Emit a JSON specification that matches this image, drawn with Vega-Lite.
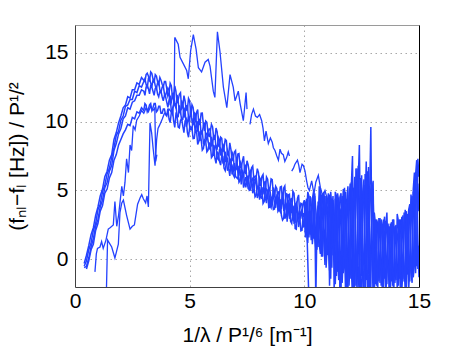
{
"$schema": "https://vega.github.io/schema/vega-lite/v6.json",
"width": 344, "height": 262,
"autosize": "none",
"padding": {"left": 75, "top": 25, "right": 44, "bottom": 62},
"config": {"view": {"stroke": null}, "font": "Liberation Sans"},
"datasets": {
"band": [
{"x":0.4,"a":-0.3,"b":-0.5,"c":-0.6},
{"x":0.5,"a":0.3,"b":-0.1,"c":-0.5,"d":-0.7},
{"x":0.6,"a":1.0,"b":0.7,"c":0.1,"d":-0.1},
{"x":0.7,"a":1.8,"b":1.2,"c":0.9,"d":0.7},
{"x":0.8,"a":2.3,"b":2.1,"c":1.5,"d":1.1},
{"x":0.9,"a":3.2,"b":2.6,"c":2.4,"d":2.1},
{"x":1.0,"a":3.8,"b":3.6,"c":2.9,"d":2.6},
{"x":1.1,"a":4.6,"b":4.0,"c":3.8,"d":3.5},
{"x":1.2,"a":5.1,"b":4.9,"c":4.3,"d":3.9},
{"x":1.3,"a":6.0,"b":5.4,"c":5.2,"d":4.8},
{"x":1.4,"a":6.4,"b":6.2,"c":5.6,"d":5.1},
{"x":1.5,"a":7.2,"b":6.6,"c":6.4,"d":5.9},
{"x":1.6,"a":7.6,"b":7.4,"c":6.8,"d":6.3},
{"x":1.7,"a":8.7,"b":8.1,"c":7.9,"d":7.2},
{"x":1.8,"a":9.2,"b":9.0,"c":8.4,"d":7.6},
{"x":1.9,"a":9.9,"b":9.3,"c":9.1,"d":8.3},
{"x":2.0,"a":10.4,"b":10.1,"c":9.5,"d":8.7},
{"x":2.1,"a":11.0,"b":10.4,"c":10.2,"d":9.1},
{"x":2.2,"a":11.2,"b":11.1,"c":10.4,"d":9.4},
{"x":2.3,"a":11.8,"b":11.2,"c":11.0,"d":9.8},
{"x":2.4,"a":11.7,"b":11.6,"c":10.9,"d":9.7},
{"x":2.5,"a":12.3,"b":11.6,"c":11.4,"d":10.3},
{"x":2.6,"a":12.3,"b":12.2,"c":11.5,"d":10.2},
{"x":2.7,"a":12.8,"b":12.1,"c":11.9,"d":10.7},
{"x":2.8,"a":12.7,"b":12.6,"c":11.9,"d":10.6},
{"x":2.9,"a":13.2,"b":12.5,"c":12.3,"d":11.0},
{"x":3.0,"a":13.0,"b":12.9,"c":12.2,"d":10.8},
{"x":3.1,"a":13.4,"b":12.7,"c":12.5,"d":11.2},
{"x":3.2,"a":13.3,"b":13.1,"c":12.4,"d":10.9},
{"x":3.3,"a":13.6,"b":12.8,"c":12.6,"d":11.3},
{"x":3.4,"a":13.1,"b":13.0,"c":12.2,"d":11.0},
{"x":3.5,"a":13.4,"b":12.6,"c":12.4,"d":11.3},
{"x":3.6,"a":12.9,"b":12.8,"c":12.0,"d":10.8},
{"x":3.7,"a":13.2,"b":12.3,"c":12.2,"d":11.1},
{"x":3.8,"a":12.7,"b":12.5,"c":11.8,"d":10.6},
{"x":3.9,"a":12.9,"b":12.0,"c":11.9,"d":10.9},
{"x":4.0,"a":12.4,"b":12.2,"c":11.4,"d":10.4},
{"x":4.1,"a":12.05,"b":12.25,"c":11.55,"d":10.18},
{"x":4.2,"a":12.6,"b":11.4,"c":10.7,"d":10.66},
{"x":4.3,"a":11.55,"b":12.05,"c":11.35,"d":10.04},
{"x":4.4,"a":12.2,"b":11.0,"c":11.3,"d":10.52},
{"x":4.5,"a":11.55,"b":11.45,"c":10.35,"d":9.6},
{"x":4.6,"a":12.1,"b":10.6,"c":10.7,"d":10.08},
{"x":4.7,"a":11.05,"b":11.25,"c":10.15,"d":9.66},
{"x":4.8,"a":11.5,"b":10.6,"c":10.8,"d":10.04},
{"x":4.9,"a":10.85,"b":11.15,"c":9.95,"d":9.22},
{"x":5.0,"a":11.5,"b":10.1,"c":9.6,"d":9.6},
{"x":5.1,"a":11.22,"b":10.02,"c":9.42,"d":9.54},
{"x":5.2,"a":10.24,"b":10.64,"c":9.94,"d":8.78},
{"x":5.3,"a":10.66,"b":9.76,"c":9.96,"d":9.32},
{"x":5.4,"a":9.78,"b":10.18,"c":8.98,"d":8.56},
{"x":5.5,"a":10.6,"b":9.1,"c":9.3,"d":8.7},
{"x":5.6,"a":9.72,"b":9.72,"c":8.42,"d":8.04},
{"x":5.7,"a":10.04,"b":8.84,"c":9.14,"d":8.58},
{"x":5.8,"a":9.16,"b":9.26,"c":8.66,"d":7.92},
{"x":5.9,"a":9.28,"b":9.38,"c":7.98,"d":8.36},
{"x":6.0,"a":9.6,"b":8.4,"c":8.5,"d":7.5},
{"x":6.1,"a":8.72,"b":8.92,"c":8.22,"d":7.34},
{"x":6.2,"a":9.24,"b":8.04,"c":7.34,"d":7.78},
{"x":6.3,"a":8.16,"b":8.66,"c":7.96,"d":7.12},
{"x":6.4,"a":8.78,"b":7.58,"c":7.88,"d":7.56},
{"x":6.5,"a":8.1,"b":8.0,"c":6.9,"d":6.6},
{"x":6.6,"a":8.62,"b":7.12,"c":7.22,"d":7.06},
{"x":6.7,"a":7.54,"b":7.74,"c":6.64,"d":6.62},
{"x":6.8,"a":7.96,"b":7.06,"c":7.26,"d":6.98},
{"x":6.9,"a":7.28,"b":7.58,"c":6.38,"d":6.14},
{"x":7.0,"a":7.9,"b":6.5,"c":6.0,"d":6.5},
{"x":7.1,"a":7.65,"b":6.45,"c":5.85,"d":6.46},
{"x":7.2,"a":6.7,"b":7.1,"c":6.4,"d":5.72},
{"x":7.3,"a":7.15,"b":6.25,"c":6.45,"d":6.28},
{"x":7.4,"a":6.3,"b":6.7,"c":5.5,"d":5.54},
{"x":7.5,"a":7.15,"b":5.65,"c":5.85,"d":5.7},
{"x":7.6,"a":6.3,"b":6.3,"c":5.0,"d":5.08},
{"x":7.7,"a":6.65,"b":5.45,"c":5.75,"d":5.66},
{"x":7.8,"a":5.8,"b":5.9,"c":5.3,"d":5.04},
{"x":7.9,"a":5.95,"b":6.05,"c":4.65,"d":5.52},
{"x":8.0,"a":6.3,"b":5.1,"c":5.2,"d":4.7},
{"x":8.1,"a":5.38,"b":5.78,"c":4.98,"d":4.48},
{"x":8.2,"a":6.16,"b":4.76,"c":4.06,"d":5.16},
{"x":8.3,"a":4.94,"b":5.64,"c":4.94,"d":4.44},
{"x":8.4,"a":5.82,"b":4.42,"c":4.92,"d":5.02},
{"x":8.5,"a":5.1,"b":5.0,"c":3.8,"d":3.9},
{"x":8.6,"a":5.78,"b":4.08,"c":4.28,"d":4.5},
{"x":8.7,"a":4.56,"b":4.96,"c":3.66,"d":4.1},
{"x":8.8,"a":5.14,"b":4.24,"c":4.54,"d":4.6},
{"x":8.9,"a":4.42,"b":4.92,"c":3.62,"d":3.6},
{"x":9.0,"a":5.3,"b":3.7,"c":3.2,"d":4.1},
{"x":9.1,"a":5.19,"b":3.59,"c":2.99,"d":4.3},
{"x":9.2,"a":3.88,"b":4.78,"c":3.98,"d":3.2},
{"x":9.3,"a":4.67,"b":3.57,"c":4.17,"d":4.2},
{"x":9.4,"a":3.46,"b":4.36,"c":2.76,"d":3.2},
{"x":9.5,"a":4.95,"b":2.85,"c":3.45,"d":3.6},
{"x":9.6,"a":3.74,"b":3.94,"c":2.24,"d":2.7},
{"x":9.7,"a":4.43,"b":2.83,"c":3.53,"d":3.7},
{"x":9.8,"a":3.22,"b":3.62,"c":3.02,"d":2.8},
{"x":9.9,"a":3.51,"b":4.01,"c":2.11,"d":3.6},
{"x":10.0,"a":4.3,"b":2.6,"c":3.1,"d":2.4,"e":3.3},
{"x":10.1,"a":3.2,"b":4.4,"c":1.9,"d":2.9,"e":3.0},
{"x":10.2,"a":4.6,"b":2.1,"c":3.5,"d":-3.0,"e":1.6},
{"x":10.3,"a":2.4,"b":4.0,"c":1.4,"e":3.9},
{"x":10.4,"a":4.9,"b":1.5,"c":3.8,"e":2.2},
{"x":10.5,"a":1.9,"b":3.6,"c":0.8,"e":-3.0},
{"x":10.6,"a":4.2,"b":0.9,"c":3.9,"e":1.2},
{"x":10.7,"a":1.3,"b":5.2,"c":0.4,"e":3.6},
{"x":10.8,"a":4.8,"b":1.8,"c":3.1,"e":0.2},
{"x":10.9,"a":0.6,"b":3.9,"c":-0.4,"e":4.6},
{"x":11.0,"a":3.8,"b":0.3,"c":4.2,"e":1.1},
{"x":11.1,"a":-0.8,"b":4.7,"c":0.9,"e":-1.9},
{"x":11.2,"a":4.1,"b":-0.6,"c":3.5,"e":3.8},
{"x":11.3,"a":0.2,"b":3.2,"c":-2.3,"e":0.8},
{"x":11.4,"a":4.6,"b":0.9,"c":3.9,"e":-1.2},
{"x":11.5,"a":-1.5,"b":4.2,"c":0.4,"e":4.0},
{"x":11.6,"a":3.7,"b":-2.4,"c":4.8,"e":-0.6},
{"x":11.7,"a":0.5,"b":5.1,"c":-1.0,"e":3.2},
{"x":11.8,"a":4.9,"b":-0.9,"c":3.0,"e":-2.5},
{"x":11.9,"a":-2.6,"b":3.6,"c":0.2,"e":5.3},
{"x":12.0,"a":5.5,"b":0.6,"c":5.0,"e":-1.4},
{"x":12.1,"a":-0.7,"b":7.5,"c":-2.8,"e":3.9},
{"x":12.2,"a":4.6,"b":-1.8,"c":6.0,"e":0.3},
{"x":12.3,"a":-2.5,"b":5.2,"c":0.1,"e":6.6},
{"x":12.4,"a":8.3,"b":-0.4,"c":4.1,"e":-2.7},
{"x":12.5,"a":-1.2,"b":6.1,"c":-2.4,"e":3.4},
{"x":12.6,"a":5.8,"b":-2.9,"c":5.4,"e":0.4},
{"x":12.7,"a":0.0,"b":4.3,"c":-1.5,"e":7.1},
{"x":12.8,"a":6.7,"b":-1.1,"c":3.6,"e":-3.0},
{"x":12.9,"a":-2.2,"b":9.6,"c":0.6,"e":4.8},
{"x":13.0,"a":4.5,"b":-2.6,"c":5.7,"e":-0.9},
{"x":13.1,"a":-1.8,"b":2.9,"c":-0.4,"e":2.6},
{"x":13.2,"a":2.6,"b":-1.0,"c":2.3,"e":-2.4},
{"x":13.3,"a":-0.6,"b":3.0,"c":-1.7,"e":1.8},
{"x":13.4,"a":2.2,"b":-2.3,"c":2.5,"e":-0.5},
{"x":13.5,"a":-1.4,"b":1.6,"c":-0.2,"e":3.1},
{"x":13.6,"a":3.4,"b":-0.9,"c":2.0,"e":-1.8},
{"x":13.7,"a":-2.5,"b":2.4,"c":-1.3,"e":1.2},
{"x":13.8,"a":1.8,"b":-1.6,"c":2.7,"e":-0.3},
{"x":13.9,"a":-0.7,"b":2.9,"c":-2.6,"e":2.2},
{"x":14.0,"a":2.5,"b":-0.4,"c":1.4,"e":-1.5},
{"x":14.1,"a":-1.9,"b":2.1,"c":-0.8,"e":2.8},
{"x":14.2,"a":2.9,"b":-2.5,"c":2.3,"e":-0.2},
{"x":14.3,"a":-0.9,"b":1.7,"c":-1.4,"e":3.2},
{"x":14.4,"a":3.6,"b":-1.2,"c":2.6,"e":-2.3},
{"x":14.5,"a":-1.1,"b":3.3,"c":0.0,"e":2.0},
{"x":14.6,"a":4.0,"b":-0.6,"c":3.7,"e":-1.6},
{"x":14.7,"a":-1.7,"b":4.6,"c":-0.8,"e":2.9},
{"x":14.8,"a":3.2,"b":0.2,"c":6.3,"e":-0.4},
{"x":14.9,"a":-0.5,"b":7.2,"c":0.8,"e":4.5},
{"x":15.0,"a":6.0,"b":-1.3,"c":3.5,"e":1.0},
{"x":3.05,"a":12.9,"b":13.1,"c":11.9,"d":11.3},
{"x":3.15,"a":13.5,"b":12.4,"c":12.6,"d":10.7},
{"x":3.25,"a":12.9,"b":13.1,"c":12.0,"d":11.2},
{"x":3.35,"a":13.5,"b":12.5,"c":12.5,"d":10.8},
{"x":3.45,"a":12.8,"b":13.0,"c":11.9,"d":11.3},
{"x":3.55,"a":13.3,"b":12.4,"c":12.5,"d":10.7},
{"x":3.65,"a":12.7,"b":12.9,"c":11.8,"d":11.1},
{"x":3.75,"a":13.0,"b":12.1,"c":12.2,"d":10.6},
{"x":3.85,"a":12.5,"b":12.6,"c":11.5,"d":10.9},
{"x":3.95,"a":12.9,"b":11.9,"c":11.8,"d":10.5},
{"x":4.05,"a":11.83,"b":12.43,"c":11.03,"d":10.94},
{"x":4.15,"a":12.78,"b":11.18,"c":11.88,"d":9.92},
{"x":4.25,"a":11.73,"b":12.03,"c":10.53,"d":10.9},
{"x":4.35,"a":12.58,"b":11.18,"c":11.28,"d":9.58},
{"x":4.45,"a":11.33,"b":11.93,"c":10.33,"d":10.36},
{"x":4.55,"a":11.98,"b":10.68,"c":11.18,"d":9.54},
{"x":4.65,"a":10.93,"b":11.53,"c":10.13,"d":10.22},
{"x":4.75,"a":11.88,"b":10.28,"c":10.98,"d":9.2},
{"x":4.85,"a":10.83,"b":11.13,"c":9.63,"d":10.18},
{"x":4.95,"a":11.68,"b":10.28,"c":10.38,"d":8.86},
{"x":5.05,"a":10.41,"b":11.01,"c":9.41,"d":9.62},
{"x":5.15,"a":11.03,"b":9.73,"c":10.23,"d":8.76},
{"x":5.25,"a":9.95,"b":10.55,"c":9.15,"d":9.4},
{"x":5.35,"a":10.87,"b":9.27,"c":9.97,"d":8.34},
{"x":5.45,"a":9.79,"b":10.09,"c":8.59,"d":9.28},
{"x":5.55,"a":10.61,"b":9.21,"c":9.31,"d":7.92},
{"x":5.65,"a":9.33,"b":9.93,"c":8.33,"d":8.66},
{"x":5.75,"a":9.95,"b":8.65,"c":9.15,"d":7.8},
{"x":5.85,"a":8.87,"b":9.47,"c":8.07,"d":8.44},
{"x":5.95,"a":9.79,"b":8.19,"c":8.89,"d":7.38},
{"x":6.05,"a":8.71,"b":9.01,"c":7.51,"d":8.32},
{"x":6.15,"a":9.53,"b":8.13,"c":8.23,"d":6.96},
{"x":6.25,"a":8.25,"b":8.85,"c":7.25,"d":7.7},
{"x":6.35,"a":8.87,"b":7.57,"c":8.07,"d":6.84},
{"x":6.45,"a":7.79,"b":8.39,"c":6.99,"d":7.48},
{"x":6.55,"a":8.71,"b":7.11,"c":7.81,"d":6.43},
{"x":6.65,"a":7.63,"b":7.93,"c":6.43,"d":7.39},
{"x":6.75,"a":8.45,"b":7.05,"c":7.15,"d":6.05},
{"x":6.85,"a":7.17,"b":7.77,"c":6.17,"d":6.81},
{"x":6.95,"a":7.79,"b":6.49,"c":6.99,"d":5.97},
{"x":7.05,"a":6.73,"b":7.33,"c":5.93,"d":6.63},
{"x":7.15,"a":7.68,"b":6.08,"c":6.78,"d":5.59},
{"x":7.25,"a":6.63,"b":6.93,"c":5.43,"d":6.55},
{"x":7.35,"a":7.48,"b":6.08,"c":6.18,"d":5.21},
{"x":7.45,"a":6.23,"b":6.83,"c":5.23,"d":5.97},
{"x":7.55,"a":6.88,"b":5.58,"c":6.08,"d":5.14},
{"x":7.65,"a":5.83,"b":6.43,"c":5.03,"d":5.82},
{"x":7.75,"a":6.78,"b":5.18,"c":5.88,"d":4.8},
{"x":7.85,"a":5.73,"b":6.03,"c":4.53,"d":5.78},
{"x":7.95,"a":6.58,"b":5.18,"c":5.28,"d":4.46},
{"x":8.05,"a":5.34,"b":5.94,"c":4.34,"d":5.24},
{"x":8.15,"a":6.02,"b":4.72,"c":5.22,"d":4.42},
{"x":8.25,"a":5.0,"b":5.6,"c":4.2,"d":5.1},
{"x":8.35,"a":5.98,"b":4.38,"c":5.08,"d":4.08},
{"x":8.45,"a":4.96,"b":5.26,"c":3.76,"d":5.06},
{"x":8.55,"a":5.84,"b":4.44,"c":4.54,"d":3.75},
{"x":8.65,"a":4.62,"b":5.22,"c":3.62,"d":4.55},
{"x":8.75,"a":5.3,"b":4.0,"c":4.5,"d":3.75},
{"x":8.85,"a":4.28,"b":4.88,"c":3.48,"d":4.45},
{"x":8.95,"a":5.26,"b":3.66,"c":4.36,"d":3.45},
{"x":9.05,"a":4.05,"b":4.75,"c":2.85,"d":4.65},
{"x":9.15,"a":5.34,"b":3.64,"c":3.94,"d":2.95},
{"x":9.25,"a":3.73,"b":4.73,"c":2.73,"d":4.05},
{"x":9.35,"a":4.72,"b":3.12,"c":4.02,"d":2.95},
{"x":9.45,"a":3.41,"b":4.41,"c":2.61,"d":4.05},
{"x":9.55,"a":4.8,"b":2.8,"c":3.9,"d":2.65},
{"x":9.65,"a":3.39,"b":4.09,"c":2.19,"d":4.05},
{"x":9.75,"a":4.68,"b":2.98,"c":3.28,"d":2.35},
{"x":9.85,"a":3.07,"b":4.07,"c":2.07,"d":3.45},
{"x":9.95,"a":4.06,"b":2.46,"c":3.36,"d":2.35},
{"x":10.05,"a":1.6,"b":3.9,"c":4.2,"e":1.9},
{"x":10.15,"a":4.9,"b":2.0,"c":1.2,"e":4.3},
{"x":10.25,"a":1.8,"b":4.6,"c":2.6,"e":2.8},
{"x":10.35,"a":4.4,"b":2.3,"c":4.5,"e":1.1},
{"x":10.45,"a":2.8,"b":4.8,"c":1.6,"e":4.6},
{"x":10.55,"a":0.7,"b":1.9,"c":3.3,"e":2.5},
{"x":10.65,"a":3.1,"b":4.4,"c":1.1,"e":5.3},
{"x":10.75,"a":4.2,"b":0.2,"c":4.7,"e":1.6},
{"x":10.85,"a":2.2,"b":4.9,"c":1.5,"e":3.4},
{"x":10.95,"a":4.6,"b":1.6,"c":3.2,"e":-0.6},
{"x":11.05,"a":0.9,"b":2.9,"c":4.8,"e":3.3},
{"x":11.15,"a":3.4,"b":1.2,"c":-1.4,"e":4.9},
{"x":11.25,"a":1.6,"b":4.3,"c":4.6,"e":0.3},
{"x":11.35,"a":4.9,"b":-1.8,"c":1.7,"e":4.4},
{"x":11.45,"a":0.1,"b":4.8,"c":-0.9,"e":2.5},
{"x":11.55,"a":3.1,"b":1.3,"c":4.5,"e":-2.4},
{"x":11.65,"a":-1.7,"b":3.3,"c":1.9,"e":4.6},
{"x":11.75,"a":4.3,"b":-0.5,"c":5.2,"e":0.9},
{"x":11.85,"a":1.4,"b":4.4,"c":-2.5,"e":4.1},
{"x":11.95,"a":4.5,"b":-1.9,"c":3.8,"e":1.6},
{"x":12.05,"a":1.9,"b":5.4,"c":-0.6,"e":5.6},
{"x":12.15,"a":5.2,"b":-2.7,"c":4.4,"e":-2.1},
{"x":12.25,"a":0.5,"b":6.6,"c":-1.9,"e":4.8},
{"x":12.35,"a":5.7,"b":1.2,"c":6.8,"e":-1.1},
{"x":12.45,"a":1.8,"b":3.9,"c":-2.8,"e":5.9},
{"x":12.55,"a":4.9,"b":-1.6,"c":4.6,"e":-0.8},
{"x":12.65,"a":-2.7,"b":6.2,"c":1.1,"e":3.7},
{"x":12.75,"a":4.1,"b":1.5,"c":6.4,"e":-2.1},
{"x":12.85,"a":1.3,"b":4.9,"c":-2.6,"e":5.3},
{"x":12.95,"a":5.6,"b":0.4,"c":3.2,"e":1.9},
{"x":13.05,"a":0.9,"b":2.2,"c":-2.3,"e":3.4},
{"x":13.15,"a":2.9,"b":-1.9,"c":2.7,"e":0.1},
{"x":13.25,"a":-1.6,"b":2.5,"c":0.5,"e":3.0},
{"x":13.35,"a":2.8,"b":0.2,"c":2.9,"e":-1.9},
{"x":13.45,"a":-0.3,"b":2.9,"c":-2.1,"e":2.4},
{"x":13.55,"a":2.4,"b":-2.6,"c":2.8,"e":0.6},
{"x":13.65,"a":0.4,"b":1.9,"c":-0.7,"e":2.6},
{"x":13.75,"a":2.6,"b":0.5,"c":1.9,"e":-2.3},
{"x":13.85,"a":-1.9,"b":2.7,"c":-0.9,"e":2.9},
{"x":13.95,"a":2.2,"b":-1.7,"c":2.4,"e":-0.6},
{"x":14.05,"a":-0.3,"b":1.6,"c":-2.2,"e":3.3},
{"x":14.15,"a":2.7,"b":-0.8,"c":2.9,"e":-1.4},
{"x":14.25,"a":-2.2,"b":3.1,"c":0.4,"e":2.3},
{"x":14.35,"a":2.3,"b":-1.6,"c":3.4,"e":-0.5},
{"x":14.45,"a":0.1,"b":2.6,"c":-2.0,"e":3.5},
{"x":14.55,"a":3.6,"b":-2.2,"c":2.8,"e":0.2},
{"x":14.65,"a":-0.9,"b":4.1,"c":-0.5,"e":4.7},
{"x":14.75,"a":4.9,"b":-0.6,"c":5.1,"e":-1.3},
{"x":14.85,"a":0.6,"b":6.1,"c":-1.0,"e":5.8},
{"x":14.95,"a":7.3,"b":1.4,"c":5.5,"e":-0.7}
],
"extra": [
{"s":"g","x":1.36,"y":-3.0},{"s":"g","x":1.42,"y":1.4},{"s":"g","x":1.6,"y":0.9},{"s":"g","x":1.74,"y":0.1},{"s":"g","x":1.89,"y":1.1},{"s":"g","x":1.96,"y":3.4},{"s":"g","x":2.04,"y":4.1},{"s":"g","x":2.11,"y":4.3},{"s":"g","x":2.25,"y":3.2},{"s":"g","x":2.4,"y":2.2},{"s":"g","x":2.5,"y":2.4},{"s":"g","x":2.59,"y":2.5},{"s":"g","x":2.73,"y":4.0},{"s":"g","x":2.85,"y":4.5},{"s":"g","x":2.91,"y":4.7},{"s":"g","x":2.98,"y":4.4},{"s":"g","x":3.08,"y":4.1},{"s":"g","x":3.14,"y":4.6},{"s":"g","x":3.2,"y":3.8},{"s":"g","x":3.27,"y":9.9},{"s":"g","x":3.34,"y":9.2},{"s":"g","x":3.41,"y":8.0},{"s":"g","x":3.49,"y":6.8},{"s":"g","x":3.56,"y":8.7},{"s":"g","x":3.62,"y":9.5},{"s":"g","x":3.68,"y":9.7},{"s":"g","x":3.81,"y":10.2},{"s":"g","x":3.9,"y":10.6},{"s":"g","x":4.0,"y":10.5},{"s":"g","x":4.1,"y":10.9},{"s":"g","x":4.2,"y":10.7},{"s":"g","x":4.3,"y":11.2},{"s":"g","x":4.33,"y":12.6},{"s":"g","x":4.35,"y":16.1},{"s":"g","x":4.5,"y":15.6},{"s":"g","x":4.58,"y":14.65},{"s":"g","x":4.72,"y":14.2},{"s":"g","x":4.87,"y":13.7},{"s":"g","x":4.94,"y":13.1},{"s":"g","x":5.04,"y":15.1},{"s":"g","x":5.16,"y":16.3},{"s":"g","x":5.28,"y":15.25},{"s":"g","x":5.38,"y":13.9},{"s":"g","x":5.52,"y":13.6},{"s":"g","x":5.67,"y":14.3},{"s":"g","x":5.81,"y":14.5},{"s":"g","x":5.89,"y":14.0},{"s":"g","x":6.03,"y":12.2},{"s":"g","x":6.1,"y":11.75},{"s":"g","x":6.21,"y":16.5},{"s":"g","x":6.32,"y":15.1},{"s":"g","x":6.47,"y":12.5},{"s":"g","x":6.62,"y":11.0},{"s":"g","x":6.76,"y":13.4},{"s":"g","x":6.9,"y":12.5},{"s":"g","x":6.98,"y":11.5},{"s":"g","x":7.12,"y":12.2},{"s":"g","x":7.2,"y":11.3},{"s":"g","x":7.34,"y":10.06},{"s":"g","x":7.46,"y":12.1},{"s":"g","x":7.5,"y":10.9},
{"s":"g2","x":7.63,"y":9.8},{"s":"g2","x":7.7,"y":10.5},{"s":"g2","x":7.78,"y":10.9},{"s":"g2","x":7.87,"y":10.4},{"s":"g2","x":7.95,"y":10.3},{"s":"g2","x":8.05,"y":10.5},{"s":"g2","x":8.14,"y":10.06},{"s":"g2","x":8.2,"y":9.5},{"s":"g2","x":8.26,"y":8.6},{"s":"g2","x":8.33,"y":9.3},{"s":"g2","x":8.43,"y":8.4},{"s":"g2","x":8.52,"y":8.8},{"s":"g2","x":8.6,"y":8.5},{"s":"g2","x":8.65,"y":8.1},{"s":"g2","x":8.72,"y":7.9},{"s":"g2","x":8.8,"y":7.5},{"s":"g2","x":8.87,"y":7.2},{"s":"g2","x":8.94,"y":8.0},{"s":"g2","x":9.0,"y":7.7},{"s":"g2","x":9.08,"y":7.6},{"s":"g2","x":9.15,"y":7.1},{"s":"g2","x":9.23,"y":7.4},{"s":"g2","x":9.3,"y":7.8},{"s":"g2","x":9.35,"y":7.5},
{"s":"g3","x":9.45,"y":6.4},{"s":"g3","x":9.52,"y":6.6},{"s":"g3","x":9.59,"y":6.9},{"s":"g3","x":9.7,"y":7.2},{"s":"g3","x":9.76,"y":6.8},{"s":"g3","x":9.81,"y":6.3},{"s":"g3","x":9.9,"y":6.9},{"s":"g3","x":9.96,"y":6.8},{"s":"g3","x":10.03,"y":6.4},{"s":"g3","x":10.1,"y":5.7},{"s":"g3","x":10.16,"y":5.2},{"s":"g3","x":10.22,"y":5.0},{"s":"g3","x":10.32,"y":5.7},{"s":"g3","x":10.42,"y":4.75},{"s":"g3","x":10.5,"y":5.6},{"s":"g3","x":10.61,"y":6.1},{"s":"g3","x":10.7,"y":5.2},{"s":"g3","x":10.8,"y":4.6},{"s":"g3","x":10.9,"y":5.0},{"s":"g3","x":10.98,"y":4.5},
{"s":"c2","x":0.87,"y":-0.9},{"s":"c2","x":0.93,"y":0.4},{"s":"c2","x":0.98,"y":0.8},{"s":"c2","x":1.09,"y":0.9},{"s":"c2","x":1.16,"y":1.3},{"s":"c2","x":1.23,"y":0.8},{"s":"c2","x":1.35,"y":1.4},{"s":"c2","x":1.45,"y":2.2},{"s":"c2","x":1.53,"y":2.3},{"s":"c2","x":1.67,"y":2.5},{"s":"c2","x":1.74,"y":4.2},{"s":"c2","x":1.82,"y":2.4},{"s":"c2","x":1.9,"y":3.2},{"s":"c2","x":1.96,"y":4.1},{"s":"c2","x":2.04,"y":5.3},{"s":"c2","x":2.11,"y":4.6},{"s":"c2","x":2.18,"y":5.6},{"s":"c2","x":2.25,"y":7.3},{"s":"c2","x":2.33,"y":6.3},{"s":"c2","x":2.4,"y":8.3},{"s":"c2","x":2.47,"y":7.9},{"s":"c2","x":2.54,"y":9.7},{"s":"c2","x":2.62,"y":9.4},{"s":"c2","x":2.69,"y":10.1},{"s":"c2","x":2.8,"y":10.4},{"s":"c2","x":2.9,"y":10.8},{"s":"c2","x":3.0,"y":10.6},{"s":"c2","x":3.1,"y":11.0},{"s":"c2","x":3.2,"y":10.7},{"s":"c2","x":3.3,"y":11.1},{"s":"c2","x":3.4,"y":10.8},{"s":"c2","x":3.48,"y":11.0},{"s":"c2","x":3.52,"y":7.1},{"s":"c2","x":3.57,"y":7.6}
]
},
"layer": [
{
"data": {"name": "band"},
"transform": [{"fold": ["a","b","c","d","e"], "as": ["s","v"]}, {"filter": "isValid(datum.v)"}],
"mark": {"type": "line", "clip": true, "color": "#2442ff", "strokeWidth": 1.5},
"encoding": {
"x": {"field": "x", "type": "quantitative", "scale": {"domain": [0,15], "nice": false, "zero": false},
"axis": {"orient": "bottom", "values": [0,5,10,15], "grid": true, "gridColor": "#a8a8a8", "gridDash": [1.5,3.5], "gridWidth": 1, "ticks": false, "domainColor": "#404040", "labelFont": "Liberation Sans", "labelFontSize": 21, "labelColor": "#000", "labelPadding": 3, "labelFlush": false, "title": "1/λ / P¹/⁶ [m⁻¹]", "titleFont": "Liberation Sans", "titleFontSize": 21, "titleFontWeight": "normal", "titleColor": "#000", "titleX": 172, "titleY": 54, "titleAlign": "center", "titleBaseline": "alphabetic", "titleAnchor": null}},
"y": {"field": "v", "type": "quantitative", "scale": {"domain": [-2,17], "nice": false, "zero": false},
"axis": {"orient": "left", "values": [0,5,10,15], "grid": true, "gridColor": "#a8a8a8", "gridDash": [1.5,3.5], "gridWidth": 1, "ticks": false, "domainColor": "#404040", "labelFont": "Liberation Sans", "labelFontSize": 21, "labelColor": "#000", "labelPadding": 7, "title": "(fₙₗ−fₗ [Hz]) / P¹/²", "titleFont": "Liberation Sans", "titleFontSize": 21, "titleFontWeight": "normal", "titleColor": "#000", "titleX": -58, "titleY": 131, "titleAngle": -90, "titleAlign": "center", "titleBaseline": "middle", "titleAnchor": null}},
"detail": {"field": "s"},
"order": {"field": "x", "type": "quantitative"}
}
},
{
"data": {"name": "extra"},
"mark": {"type": "line", "clip": true, "color": "#2442ff", "strokeWidth": 1.3},
"encoding": {
"x": {"field": "x", "type": "quantitative", "scale": {"domain": [0,15], "nice": false, "zero": false},
"axis": {"orient": "top", "labels": false, "ticks": false, "grid": false, "title": null, "domainColor": "#9a9a9a"}},
"y": {"field": "y", "type": "quantitative", "scale": {"domain": [-2,17], "nice": false, "zero": false},
"axis": {"orient": "right", "labels": false, "ticks": false, "grid": false, "title": null, "domainColor": "#000"}},
"detail": {"field": "s"},
"order": {"field": "x", "type": "quantitative"}
}
}
],
"resolve": {"axis": {"x": "independent", "y": "independent"}}
}
